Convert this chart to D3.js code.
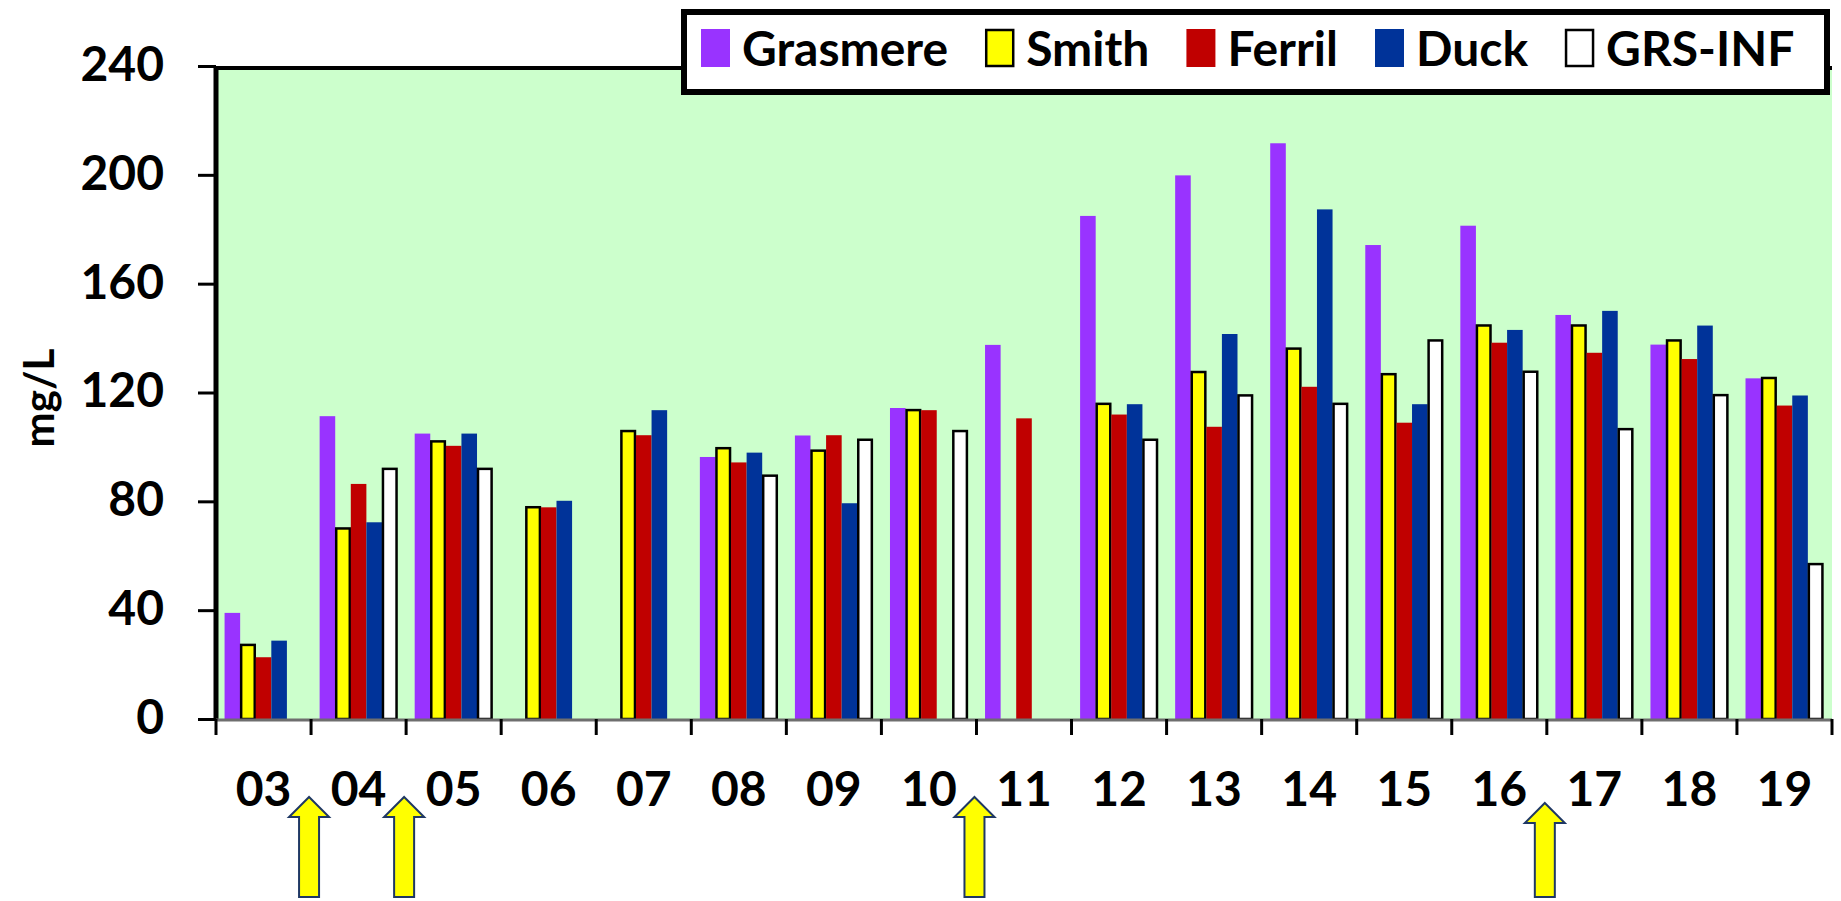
<!DOCTYPE html>
<html>
<head>
<meta charset="utf-8">
<script src="https://cdn.jsdelivr.net/npm/d3@7"></script>
<style>
  html, body { margin: 0; padding: 0; background: #ffffff; }
  svg { display: block; }
  text { font-family: Lato, "Open Sans", sans-serif; font-weight: bold; fill: #000; }
</style>
</head>
<body>
<svg id="chart" width="1841" height="901"></svg>
<script>
// ---------------- data ----------------
const categories = ["03","04","05","06","07","08","09","10","11","12","13","14","15","16","17","18","19"];
const seriesNames = ["Grasmere","Smith","Ferril","Duck","GRS-INF"];
const grasmere = [39, 111.3, 104.9, null, null, 96.3, 104.2, 114.3, 137.5, 184.9, 199.8, 211.6, 174.2, 181.3, 148.5, 137.6, 125.2];
const smith    = [27.6, 70.4, 102.4, 78.2, 106.2, 99.9, 99.0, 113.9, null, 116.2, 127.9, 136.5, 127.1, 145.0, 145.0, 139.5, 125.7];
const ferril   = [22.7, 86.4, 100.4, 77.8, 104.3, 94.3, 104.3, 113.5, 110.5, 111.9, 107.4, 122.1, 108.9, 138.3, 134.6, 132.3, 115.2];
const duck     = [28.8, 72.3, 104.9, 80.2, 113.5, 97.9, 79.3, null, null, 115.7, 141.5, 187.3, 115.7, 143.0, 150.0, 144.6, 118.9];
const grsInf   = [null, 92.3, 92.3, null, null, 89.8, 103.0, 106.2, null, 103.0, 119.3, 116.2, 139.5, 128.0, 106.9, 119.4, 57.3];
const yTicks = [0, 40, 80, 120, 160, 200, 240];
const yLabel = "mg/L";
const arrowAfter = ["03","04","10","16"];   // arrows mark boundary after these years

// ---------------- styles ----------------
const colors  = ["#9933FF", "#FFFF00", "#C00000", "#003399", "#FFFFFF"];
const strokes = [null, "#000", null, null, "#000"];

const allSeries = [grasmere, smith, ferril, duck, grsInf];

const svg = d3.select("#chart");

const plot = {left: 216, right: 1832, top: 66, bottom: 719};

const x = d3.scaleBand().domain(categories).range([plot.left, plot.right]).paddingInner(0).paddingOuter(0);
const xs = d3.scaleBand().domain(seriesNames).range([0, x.bandwidth()]).paddingInner(0).paddingOuter(0.55);
const y = d3.scaleLinear().domain([0, 240]).range([plot.bottom, plot.top]);

// plot background
svg.append("rect")
  .attr("x", plot.left).attr("y", plot.top)
  .attr("width", plot.right - plot.left).attr("height", plot.bottom - plot.top)
  .attr("fill", "#CCFFCC");

// bars
const barData = [];
categories.forEach((c, i) => {
  seriesNames.forEach((s, j) => {
    const v = allSeries[j][i];
    if (v != null) barData.push({c, s, j, v});
  });
});

svg.append("g").selectAll("rect").data(barData).join("rect")
  .attr("x", d => x(d.c) + xs(d.s) + (strokes[d.j] ? 1 : 0))
  .attr("width", d => xs.bandwidth() - (strokes[d.j] ? 2 : 0))
  .attr("y", d => y(d.v) + (strokes[d.j] ? 1 : 0))
  .attr("height", d => y(0) - y(d.v) - (strokes[d.j] ? 1 : 0))
  .attr("fill", d => colors[d.j])
  .attr("stroke", d => strokes[d.j] || "none")
  .attr("stroke-width", d => strokes[d.j] ? 2.5 : 0);

// plot top border
svg.append("line")
  .attr("x1", plot.left).attr("x2", plot.right)
  .attr("y1", plot.top + 2).attr("y2", plot.top + 2)
  .attr("stroke", "#000").attr("stroke-width", 4);

// y axis
const yAxis = d3.axisLeft(y).tickValues(yTicks).tickSize(18).tickPadding(34).tickFormat(d3.format("d"));
const gy = svg.append("g").attr("transform", `translate(${plot.left},0)`).call(yAxis);
gy.select(".domain").remove();
gy.selectAll(".tick line").attr("stroke", "#000").attr("stroke-width", 3);
gy.selectAll(".tick text")
  .attr("font-size", 48).attr("font-family", "Lato, sans-serif").attr("font-weight", "bold")
  .attr("fill", "#000").attr("dy", "0.3em");

// left border
svg.append("line")
  .attr("x1", plot.left).attr("x2", plot.left)
  .attr("y1", plot.top).attr("y2", plot.bottom + 2)
  .attr("stroke", "#000").attr("stroke-width", 5);

// x axis (ticks at category boundaries)
const boundaries = categories.map(c => x(c)).concat([x(categories[categories.length - 1]) + x.bandwidth()]);
const gx = svg.append("g");
gx.append("line")
  .attr("x1", plot.left).attr("x2", plot.right)
  .attr("y1", plot.bottom + 1).attr("y2", plot.bottom + 1)
  .attr("stroke", "#6e6e6e").attr("stroke-width", 3);
gx.selectAll("line.tk").data(boundaries).join("line").attr("class", "tk")
  .attr("x1", d => d).attr("x2", d => d)
  .attr("y1", plot.bottom).attr("y2", plot.bottom + 16)
  .attr("stroke", "#000").attr("stroke-width", 3);
gx.selectAll("text").data(categories).join("text")
  .attr("x", d => x(d) + x.bandwidth() / 2)
  .attr("y", 806)
  .attr("text-anchor", "middle")
  .attr("font-size", 48)
  .text(d => d);

// y label
svg.append("text")
  .attr("transform", "translate(54,398) rotate(-90)")
  .attr("text-anchor", "middle")
  .attr("font-size", 42)
  .text(yLabel);

// arrows
const arrowG = svg.append("g");
arrowAfter.forEach((c, i) => {
  const ax = x(c) + x.bandwidth() - 2;
  const ty = i === 3 ? 803 : 797;
  const hb = ty + 20, bot = 897;
  const p = `M${ax},${ty} L${ax + 20},${hb} L${ax + 10},${hb} L${ax + 10},${bot} L${ax - 10},${bot} L${ax - 10},${hb} L${ax - 20},${hb} Z`;
  arrowG.append("path").attr("d", p)
    .attr("fill", "#FFFF00").attr("stroke", "#1F3864").attr("stroke-width", 2).attr("stroke-linejoin", "miter");
});

// legend
const lg = svg.append("g");
lg.append("rect")
  .attr("x", 684).attr("y", 12).attr("width", 1143).attr("height", 80)
  .attr("fill", "#fff").attr("stroke", "#000").attr("stroke-width", 6);
let lx = 701;
seriesNames.forEach((s, j) => {
  lg.append("rect")
    .attr("x", lx + (strokes[j] ? 1 : 0)).attr("y", 29 + (strokes[j] ? 1 : 0))
    .attr("width", 29 - (strokes[j] ? 2 : 0)).attr("height", 38 - (strokes[j] ? 2 : 0))
    .attr("fill", colors[j])
    .attr("stroke", strokes[j] || "none").attr("stroke-width", strokes[j] ? 2.5 : 0);
  const t = lg.append("text")
    .attr("x", lx + 41).attr("y", 66)
    .attr("font-size", 48)
    .text(s);
  lx = lx + 41 + t.node().getComputedTextLength() + 37;
});
</script>
</body>
</html>
